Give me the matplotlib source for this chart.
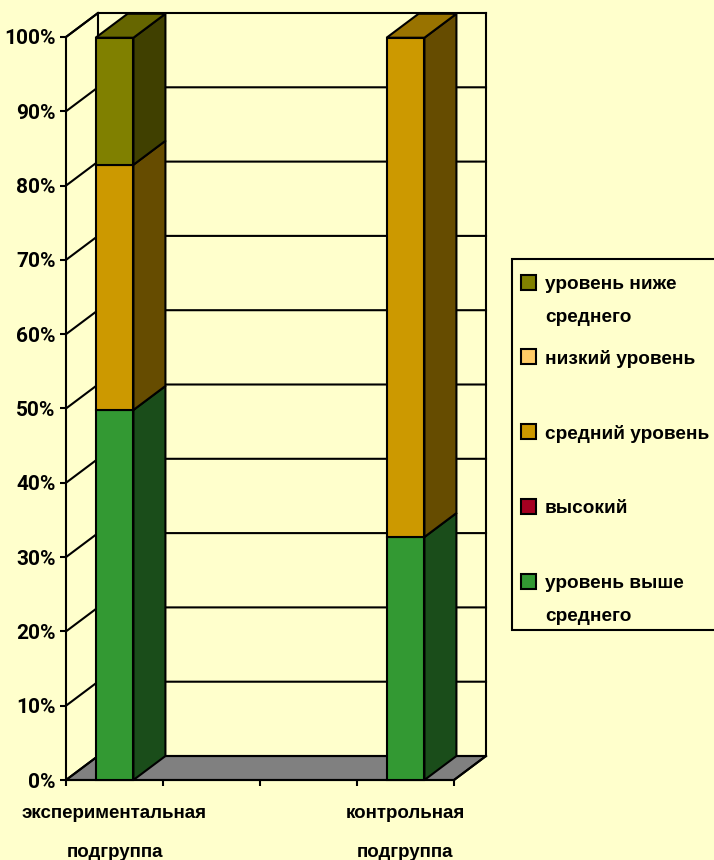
import matplotlib
matplotlib.use("Agg")
import matplotlib.pyplot as plt
from matplotlib.patches import Polygon, Rectangle

plt.rcParams['font.family'] = ['Liberation Sans', 'DejaVu Sans']

# данные
groups = ["экспериментальная\n\nподгруппа", "контрольная\n\nподгруппа"]
group_pos = [0, 3]
series_names = ["уровень выше\nсреднего", "высокий", "средний уровень", "низкий уровень", "уровень ниже\nсреднего"]
exp_values = [49.8, 0, 33, 0, 17.1]
ctrl_values = [32.7, 0, 67.2, 0, 0]
y_ticks = [0, 10, 20, 30, 40, 50, 60, 70, 80, 90, 100]

front_colors = ["#339933", "#A50021", "#CC9900", "#FFCC66", "#808000"]
side_colors = ["#1A4D1A", "#530011", "#664C00", "#806633", "#404000"]
top_colors = ["#267326", "#7B0019", "#997300", "#BF994D", "#666600"]

bg = "#FFFFCC"
lw = 1.5
dx = 0.33   # глубина по x
dy = 3.23   # глубина по y
bar_w = 0.39

fig = plt.figure(figsize=(7.14, 8.6), dpi=100, facecolor=bg)
ax = fig.add_axes([66 / 714, 1 - 780 / 860, 388 / 714, 743 / 860])
ax.set_facecolor("none")
ax.set_xlim(-0.5, 3.5)
ax.set_ylim(0, 100)
ax.spines["top"].set_visible(False)
ax.spines["right"].set_visible(False)
ax.spines["left"].set_linewidth(lw)
ax.spines["bottom"].set_linewidth(lw)
ax.spines["left"].set_zorder(1.5)
ax.spines["bottom"].set_zorder(1.5)

ax.set_yticks(y_ticks)
ax.set_yticklabels([f"{v}%" for v in y_ticks], fontfamily=['Roboto', 'Liberation Sans'],
                   fontsize=15, fontweight="bold")
ax.set_xticks([-0.5, 0.5, 1.5, 2.5, 3.5])
ax.set_xticklabels([])
ax.tick_params(length=4.5, width=lw, pad=3)


def poly(points, color, z):
    ax.add_patch(Polygon(points, closed=True, facecolor=color, edgecolor="black",
                         linewidth=lw, zorder=z, clip_on=False))


# пол и стенки
poly([(-0.5, 0), (-0.5 + dx, dy), (3.5 + dx, dy), (3.5, 0)], "#808080", 1)
ax.plot([-0.5, -0.5 + dx], [100, 100 + dy], color="black", lw=lw, clip_on=False, zorder=1)
for v in y_ticks:
    ax.plot([-0.5, -0.5 + dx, 3.5 + dx], [v, v + dy, v + dy], color="black", lw=lw,
            clip_on=False, zorder=1)
ax.plot([-0.5 + dx, -0.5 + dx], [dy, 100 + dy], color="black", lw=lw, clip_on=False, zorder=1)
ax.plot([3.5 + dx, 3.5 + dx], [dy, 100 + dy], color="black", lw=lw, clip_on=False, zorder=1)
ax.plot([3.5 + dx, 3.5], [dy, 0], color="black", lw=lw, clip_on=False, zorder=1)

# столбцы
for pos, values in zip(group_pos, [exp_values, ctrl_values]):
    x0 = pos - bar_w / 2
    x1 = pos + bar_w / 2
    bottom = 0
    last = 0
    for i, v in enumerate(values):
        if v == 0:
            continue
        top = bottom + v
        poly([(x1, bottom), (x1 + dx, bottom + dy), (x1 + dx, top + dy), (x1, top)], side_colors[i], 3)
        poly([(x0, bottom), (x1, bottom), (x1, top), (x0, top)], front_colors[i], 4)
        last = i
        bottom = top
    poly([(x0, bottom), (x1, bottom), (x1 + dx, bottom + dy), (x0 + dx, bottom + dy)], top_colors[last], 3)

# подписи групп
for pos, name in zip(group_pos, groups):
    ax.text(pos, -3.4, name, ha="center", va="top", fontsize=13.5, fontweight="bold",
            linespacing=1.2, clip_on=False)

# легенда
leg = fig.add_axes([0, 0, 1, 1], facecolor="none")
leg.set_xlim(0, 714)
leg.set_ylim(860, 0)
leg.axis("off")
leg.add_patch(Rectangle((511.5, 258.5), 210, 371, facecolor=bg, edgecolor="black", linewidth=lw))
legend_rows = [(4, 283), (3, 357), (2, 432), (1, 507), (0, 582)]
for i, y in legend_rows:
    leg.add_patch(Rectangle((521, y - 8), 15, 15, facecolor=front_colors[i], edgecolor="black", linewidth=lw))
    leg.text(545, y - 7, series_names[i], ha="left", va="top", fontsize=13.7, fontweight="bold", linespacing=2.2)

fig.savefig("out.png", dpi=100, facecolor=bg)
